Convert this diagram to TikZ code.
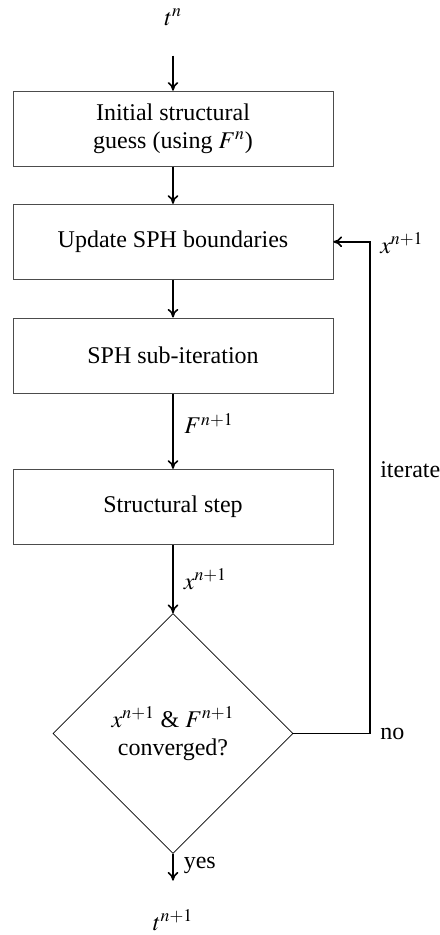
\documentclass[tikz,border=0pt]{standalone}
\usepackage{mathptmx}
\usepackage{fontspec}
\setmainfont{Liberation Serif}
\usetikzlibrary{shapes.geometric,arrows.meta}
\begin{document}
\begin{tikzpicture}[x=0.75pt,y=-0.75pt,
  every node/.style={font=\fontsize{18}{21}\selectfont},
  box/.style={draw=black!70,line width=0.5pt,minimum width=240pt,minimum height=56.5pt,align=center,inner sep=0pt},
  dec/.style={diamond,draw,line width=0.5pt,minimum width=180pt,minimum height=180pt,inner sep=0pt,align=center,aspect=1},
  arr/.style={line width=1.2pt,-{Computer Modern Rightarrow[length=6.5pt,width=8pt]}},
  lbl/.style={inner sep=0pt}]
\useasboundingbox (0,0) rectangle (439,935);

\node[lbl] (tn) at (173,17) {$t^{n}$};
\node[box] (b1) at (173,128.7) {Initial structural\\guess (using $F^{n}$)};
\node[box] (b2) at (173,241.8) {Update SPH boundaries};
\node[box] (b3) at (173,355.5) {SPH sub-iteration};
\node[box] (b4) at (173,506.8) {Structural step};
\node[dec] (d) at (173,733.5) {$x^{n+1}$ \& $F^{n+1}$\\converged?};
\node[lbl] (tn1) at (173,920) {$t^{n+1}$};

\draw[arr,shorten <=22.5pt] (tn) -- (b1);
\draw[arr] (b1) -- (b2);
\draw[arr] (b2) -- (b3);
\draw[arr] (b3) -- node[lbl,right=8pt,pos=0.4] (lF) {$F^{n+1}$} (b4);
\draw[arr] (b4) -- node[lbl,right=7.5pt,pos=0.5] (lx) {$x^{n+1}$} (d);
\draw[arr,shorten >=21.5pt] (d) -- node[lbl,right=7.5pt,pos=0.21] (yes) {yes} (tn1);

\coordinate (fb) at (370,241.8);
\draw[arr] (d.east) -| (fb) -- (b2.east);
\node[lbl,anchor=west] (no) at (380,733.5) {no};
\node[lbl,anchor=west] (it) at (380,470) {iterate};
\node[lbl,anchor=west] (xfb) at (380,243) {$x^{n+1}$};
\end{tikzpicture}
\end{document}
